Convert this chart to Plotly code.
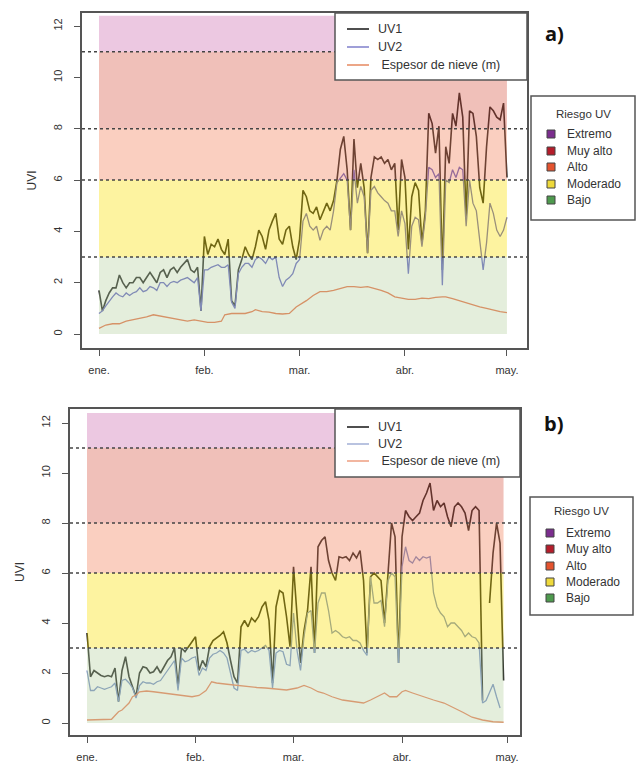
import numpy as np
import plotly.graph_objects as go

# ---------------- data ----------------
month_ticks = [0, 31, 59, 90, 120]
month_labels = ["ene.", "feb.", "mar.", "abr.", "may."]
y_ticks = [0, 2, 4, 6, 8, 10, 12]

# Panel a) daily UV index (UV1, UV2), starting 1 January
uv1_a = [1.7, 0.9, 1.3, 1.6, 1.8, 1.8, 2.3, 2.0, 1.8, 2.0, 2.0, 2.2, 2.2, 2.0, 2.2, 2.4, 2.2, 2.0, 2.4, 2.5,
         2.2, 2.5, 2.6, 2.4, 2.6, 2.75, 2.9, 2.5, 2.4, 2.6, 0.9, 3.8, 3.1, 3.5, 3.4, 3.7, 3.3, 3.1, 3.7, 1.3,
         1.1, 2.5, 2.9, 3.4, 3.1, 2.9, 3.4, 4.05, 3.8, 3.3, 4.05, 4.4, 4.7, 3.7, 3.5, 4.05, 4.2, 3.4, 2.9, 3.7,
         5.6, 5.35, 4.8, 4.7, 4.95, 4.45, 4.8, 5.1, 4.8, 5.2, 6.0, 7.2, 7.7, 6.4, 4.05, 7.6, 5.7, 6.65, 5.7, 3.15,
         6.1, 6.9, 6.8, 6.9, 6.65, 6.8, 6.4, 6.65, 4.05, 6.8, 6.1, 3.3, 5.35, 5.9, 5.6, 3.55, 4.8, 8.6, 8.2, 7.05,
         8.1, 2.5, 7.3, 6.65, 8.6, 8.1, 9.4, 8.45, 4.55, 8.7, 8.6, 7.7, 5.7, 5.1, 7.3, 8.85, 8.7, 8.45, 8.35, 9.0,
         6.1]
uv2_a = [0.8, 0.9, 1.1, 1.3, 1.45, 1.6, 1.5, 1.45, 1.6, 1.5, 1.6, 1.65, 1.8, 1.65, 1.7, 1.85, 1.8, 1.7, 2.0, 2.0,
         1.85, 2.0, 2.05, 2.0, 2.1, 2.15, 2.2, 2.1, 2.0, 2.2, 0.9, 2.5, 2.5, 2.6, 2.65, 2.7, 2.6, 2.6, 2.7, 1.25,
         1.0, 2.35, 2.6, 2.75, 2.75, 2.6, 2.9, 3.0, 2.9, 2.75, 3.0, 2.9, 3.0, 2.2, 1.85, 2.1, 2.2, 2.35, 2.75, 2.9,
         4.4, 4.7, 4.2, 4.05, 4.2, 3.65, 4.05, 4.2, 4.05, 4.8, 5.9, 6.1, 6.25, 6.0, 4.05, 6.4, 5.1, 5.75, 5.35, 3.15,
         5.6, 5.75, 5.5, 5.35, 5.2, 5.1, 4.8, 4.8, 3.8, 4.8, 4.3, 2.35, 4.2, 4.55, 4.45, 3.4, 4.55, 6.5, 6.4, 6.1,
         6.25, 1.9, 6.0, 5.9, 6.4, 6.1, 6.5, 6.4, 4.2, 6.0, 5.1, 4.8, 3.55, 2.5, 3.55, 5.1, 4.7, 4.05, 3.8, 4.05,
         4.55]
snow_days_a = [0, 2, 4, 6, 8, 10, 12, 14, 16, 18, 20, 22, 24, 26, 28, 30, 32, 34, 36, 37, 39, 41, 43, 45, 46,
               48, 50, 52, 54, 56, 58, 61, 63, 65, 67, 69, 71, 73, 75, 77, 79, 81, 83, 85, 87, 89, 91, 93, 95,
               97, 99, 101, 102, 104, 106, 108, 110, 112, 114, 116, 118, 120]
snow_a = [0.22, 0.35, 0.4, 0.4, 0.5, 0.55, 0.6, 0.67, 0.75, 0.7, 0.65, 0.6, 0.55, 0.5, 0.55, 0.5, 0.45, 0.45, 0.5,
          0.75, 0.8, 0.8, 0.8, 0.87, 0.95, 0.87, 0.85, 0.8, 0.78, 0.8, 1.05, 1.3, 1.5, 1.65, 1.65, 1.7, 1.78,
          1.85, 1.85, 1.82, 1.85, 1.78, 1.7, 1.6, 1.45, 1.4, 1.35, 1.35, 1.4, 1.38, 1.43, 1.45, 1.45, 1.38, 1.3,
          1.2, 1.13, 1.06, 1.0, 0.93, 0.87, 0.83]

# Panel b)
uv1_b = [3.6, 1.85, 2.1, 2.0, 1.9, 1.85, 1.9, 1.85, 2.2, 0.85, 2.1, 2.65, 1.85, 1.45, 1.05, 2.0, 2.25, 2.2, 2.0, 2.05,
         2.25, 2.0, 2.25, 2.5, 2.65, 3.0, 1.45, 3.0, 2.85, 3.05, 3.3, 3.45, 2.1, 2.5, 2.25, 3.05, 3.3, 3.4, 3.5, 3.65,
         3.2, 2.5, 1.85, 1.6, 3.85, 4.1, 3.85, 4.2, 4.05, 4.25, 4.65, 4.85, 4.1, 1.6, 4.65, 5.3, 5.2, 4.25,
         3.05, 6.25, 4.5, 2.4, 3.7, 4.5, 6.25, 2.8, 7.05, 7.3, 7.45, 6.5, 6.0, 5.7, 6.65, 6.6, 6.65, 6.5, 6.8, 6.6,
         6.9, 5.7, 2.8, 5.85, 6.0, 5.85, 5.7, 4.0, 6.1, 8.0, 7.45, 2.4, 7.45, 8.5, 8.25, 8.1, 8.25, 8.4, 8.9, 9.2,
         9.6, 8.5, 8.9, 8.65, 8.8, 8.25, 7.85, 8.65, 8.8, 8.65, 8.4, 7.7, 8.5, 8.65, 8.5, 0.9, None, 4.8, 6.8, 8.0,
         7.2, 1.7]
uv2_b = [2.1, 1.3, 1.3, 1.45, 1.4, 1.35, 1.4, 1.45, 1.6, 0.85, 1.7, 1.75, 1.6, 1.4, 1.0, 1.5, 1.65, 1.6, 1.6, 1.55,
         1.65, 1.7, 1.9, 2.1, 2.3, 2.5, 1.3, 2.6, 2.45, 2.5, 2.6, 2.65, 1.9, 2.2, 2.1, 2.6, 2.75, 2.8, 2.9, 2.8,
         2.6, 2.0, 1.4, 1.3, 2.9, 2.95, 2.8, 2.9, 2.85, 2.9, 3.0, 3.1, 2.9, 1.4, 2.8, 2.9, 2.85, 2.35,
         2.3, 4.4, 2.9, 2.1, 3.45, 4.4, 4.5, 2.8, 4.8, 5.2, 5.2, 4.5, 3.6, 3.7, 3.6, 3.45, 3.4, 3.45, 3.3, 3.3,
         3.2, 2.9, 2.7, 5.85, 4.8, 4.8, 4.9, 3.85, 5.7, 6.0, 5.85, 2.4, 6.25, 7.05, 6.5, 6.4, 6.65, 6.5, 6.65, 6.6,
         6.65, 5.2, 4.65, 4.4, 4.25, 3.85, 4.0, 4.0, 3.85, 3.7, 3.45, 3.6, 3.45, 3.4, 3.2, 0.8, 0.9, 1.2, 1.55, 1.05,
         0.6, None]
snow_days_b = [0, 4, 7, 8, 9, 10, 11, 12, 13, 14, 15, 17, 19, 22, 25, 27, 30, 32, 34, 35.6, 37, 40, 43, 46, 48.5,
               51, 54, 57, 60, 62, 64, 66, 67.5, 70, 73, 76, 79, 81, 83, 85, 86.5, 88.5, 90, 91, 93, 96, 99, 102,
               105, 107.5, 110, 113, 116, 119]
snow_b = [0.12, 0.12, 0.15, 0.3, 0.45, 0.52, 0.65, 0.8, 1.05, 1.12, 1.25, 1.28, 1.25, 1.2, 1.12, 1.1, 1.05, 1.1, 1.3,
          1.65, 1.6, 1.55, 1.5, 1.45, 1.42, 1.4, 1.36, 1.32, 1.4, 1.5, 1.4, 1.25, 1.2, 1.05, 0.92, 0.85, 0.8, 0.92,
          1.05, 1.2, 1.05, 1.05, 1.25, 1.3, 1.2, 1.05, 0.92, 0.8, 0.6, 0.42, 0.23, 0.12, 0.05, 0.03]

series_names = ["UV1", "UV2", " Espesor de nieve (m)"]

# UV risk categories
risk_title = "Riesgo UV"
risk_names = ["Extremo", "Muy alto", "Alto", "Moderado", "Bajo"]
risk_colors = ["#7b2d8e", "#b51d2b", "#e4532f", "#eed93b", "#4e9a4e"]
band_low = [11, 8, 6, 3, 0]
band_high = [12.4, 11, 8, 6, 3]
band_fills = ["rgba(208,118,180,0.4)", "rgba(218,98,80,0.4)", "rgba(243,135,98,0.4)",
              "rgba(250,225,18,0.4)", "rgba(188,213,168,0.4)"]
thresholds = [3, 6, 8, 11]

W, H = 637, 769
FONT = "Liberation Sans"


def px(x):
    return x / W


def py(y):
    return 1 - y / H


panels = [
    dict(uv1=uv1_a, uv2=uv2_a, sd=snow_days_a, sn=snow_a, xs="x", ys="y",
         frame=(82, 527, 13, 348), xr=[-5, 125.9], yr=[-0.545, 12.51],
         colors=["#151515", "#5a5ac0", "#e8663c"], legcolors=["#222222", "#8787cf", "#e8906a"],
         lab="a)", labpos=(554, 33),
         lbox=(335, 13, 527, 80), lrows=[29, 47, 65],
         rbox=(531, 96, 635, 220), rtitle=114, rrows=[134, 151, 167, 184, 200], rsq=551, rtx=565),
    dict(uv1=uv1_b, uv2=uv2_b, sd=snow_days_b, sn=snow_b, xs="x2", ys="y2",
         frame=(70, 520, 409, 735), xr=[-4.86, 123.7], yr=[-0.48, 12.56],
         colors=["#151515", "#6e86c2", "#ea7650"], legcolors=["#222222", "#a8b4d8", "#efa488"],
         lab="b)", labpos=(553, 423),
         lbox=(335, 409, 520, 477), lrows=[427, 444, 461],
         rbox=(530, 497, 633, 615), rtitle=511, rrows=[533, 549, 566, 582, 598], rsq=550, rtx=564),
]

fig = go.Figure()
shapes = []
annotations = []
layout = {}

for i, p in enumerate(panels):
    days = np.arange(len(p["uv1"]))
    ys_list = [(days, p["uv1"]), (days, p["uv2"]), (p["sd"], p["sn"])]
    widths = [1.6, 1.3, 1.3]
    for (xv, yv), nm, col, lw in zip(ys_list, series_names, p["colors"], widths):
        fig.add_trace(go.Scatter(x=xv, y=yv, mode="lines", name=nm.strip(),
                                 line=dict(color=col, width=lw), xaxis=p["xs"], yaxis=p["ys"],
                                 connectgaps=False, showlegend=False))

    xr_ = p["xs"]
    yr_ = p["ys"]
    last_day = len(p["uv1"]) - 1
    for lo, hi, fc in zip(band_low, band_high, band_fills):
        shapes.append(dict(type="rect", xref=xr_, yref=yr_, x0=0, x1=last_day, y0=lo, y1=hi,
                           fillcolor=fc, line=dict(width=0), layer="above"))
    for t in thresholds:
        shapes.append(dict(type="line", xref=xr_ + " domain", yref=yr_, x0=0, x1=1, y0=t, y1=t,
                           line=dict(color="#444", width=1.4, dash="dot"), layer="above"))

    L, R, T, B = p["frame"]
    axname = "xaxis" if i == 0 else "xaxis2"
    ayname = "yaxis" if i == 0 else "yaxis2"
    layout[axname] = dict(domain=[px(L), px(R)], range=p["xr"], anchor=yr_,
                          tickvals=month_ticks, ticktext=month_labels,
                          ticks="outside", ticklen=6, tickwidth=1.2, tickcolor="#555",
                          showline=True, mirror=True, linecolor="#555", linewidth=2,
                          showgrid=False, zeroline=False, ticklabelstandoff=5,
                          tickfont=dict(family=FONT, size=11, color="#333"))
    layout[ayname] = dict(domain=[py(B), py(T)], range=p["yr"], anchor=xr_,
                          tickvals=y_ticks, tickangle=-90,
                          ticks="outside", ticklen=6, tickwidth=1.2, tickcolor="#555",
                          showline=True, mirror=True, linecolor="#555", linewidth=2,
                          showgrid=False, zeroline=False, ticklabelstandoff=8,
                          tickfont=dict(family=FONT, size=11, color="#333"),
                          title=dict(text="UVI", standoff=12,
                                     font=dict(family=FONT, size=12, color="#333")))

    # ---- series legend (drawn box) ----
    x0, y0, x1, y1 = p["lbox"]
    shapes.append(dict(type="rect", xref="paper", yref="paper", x0=px(x0), x1=px(x1), y0=py(y1), y1=py(y0),
                       fillcolor="white", line=dict(color="#555", width=1.5), layer="above"))
    for nm, col, yrow in zip(series_names, p["legcolors"], p["lrows"]):
        shapes.append(dict(type="line", xref="paper", yref="paper", x0=px(347), x1=px(369),
                           y0=py(yrow), y1=py(yrow), line=dict(color=col, width=1.6), layer="above"))
        annotations.append(dict(text=nm.replace(" ", "&nbsp;", 1) if nm.startswith(" ") else nm,
                                xref="paper", yref="paper", x=px(376), y=py(yrow),
                                xanchor="left", yanchor="middle", showarrow=False,
                                font=dict(family=FONT, size=12.5, color="#333")))

    # ---- UV risk legend (drawn box) ----
    x0, y0, x1, y1 = p["rbox"]
    shapes.append(dict(type="rect", xref="paper", yref="paper", x0=px(x0), x1=px(x1), y0=py(y1), y1=py(y0),
                       fillcolor="white", line=dict(color="#555", width=1.5), layer="above"))
    annotations.append(dict(text=risk_title, xref="paper", yref="paper", x=px((x0 + x1) / 2),
                            y=py(p["rtitle"]), xanchor="center", yanchor="middle", showarrow=False,
                            font=dict(family=FONT, size=11.5, color="#333")))
    for nm, col, yrow in zip(risk_names, risk_colors, p["rrows"]):
        shapes.append(dict(type="rect", xref="paper", yref="paper",
                           x0=px(p["rsq"] - 4), x1=px(p["rsq"] + 4), y0=py(yrow + 4), y1=py(yrow - 4),
                           fillcolor=col, line=dict(color="#444", width=1), layer="above"))
        annotations.append(dict(text=nm, xref="paper", yref="paper", x=px(p["rtx"]), y=py(yrow),
                                xanchor="left", yanchor="middle", showarrow=False,
                                font=dict(family=FONT, size=12, color="#333")))

    annotations.append(dict(text="<b>%s</b>" % p["lab"], xref="paper", yref="paper",
                            x=px(p["labpos"][0]), y=py(p["labpos"][1]),
                            xanchor="center", yanchor="middle", showarrow=False,
                            font=dict(family="Open Sans", size=20, color="#111")))

fig.update_layout(width=W, height=H, margin=dict(l=0, r=0, t=0, b=0),
                  paper_bgcolor="white", plot_bgcolor="white", showlegend=False,
                  shapes=shapes, annotations=annotations, **layout)

fig.write_html("out.html", config={"displayModeBar": False},
               post_script="document.body.style.margin='0';document.body.style.overflow='hidden';")
